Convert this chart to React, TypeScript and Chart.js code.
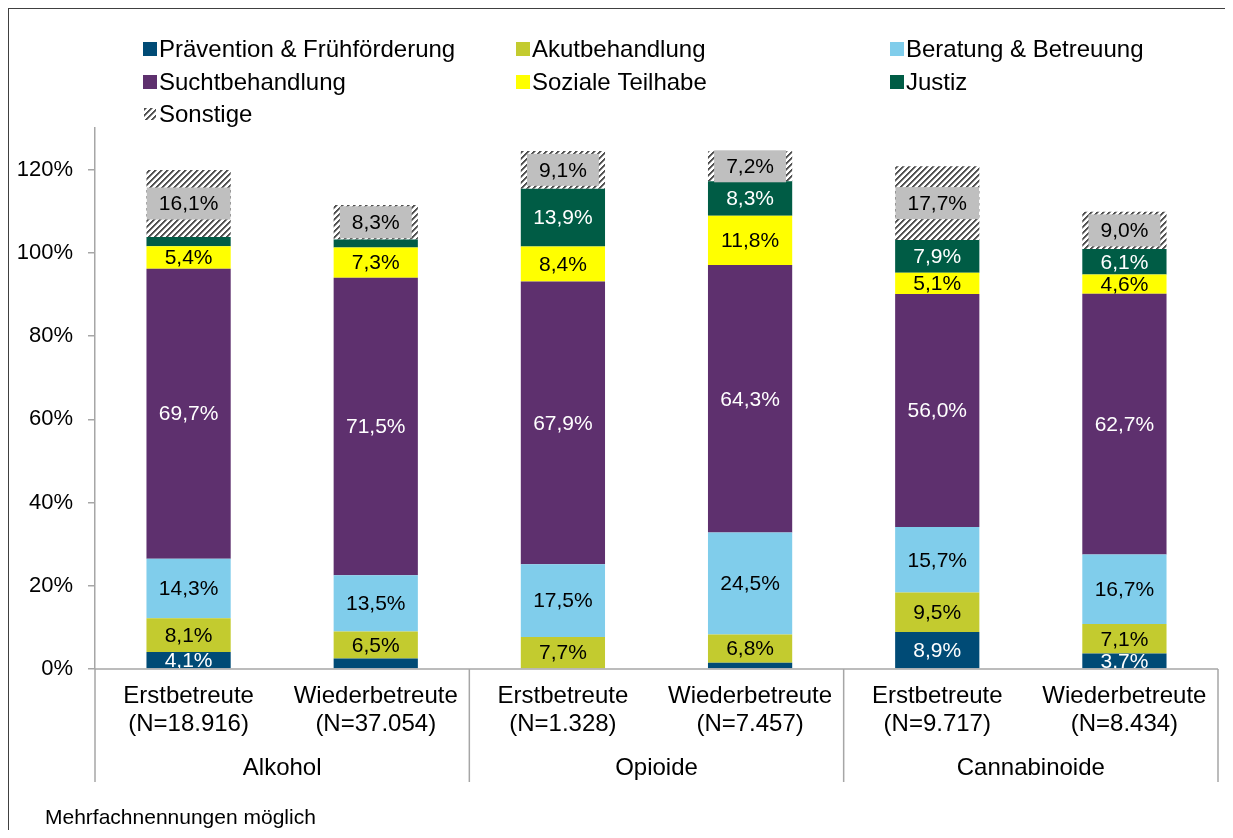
import React, { useEffect, useRef } from "react";
import { Chart, registerables } from "chart.js";

Chart.register(...registerables);

// ---- data ----
const typeLabels = ["Erstbetreute", "Wiederbetreute", "Erstbetreute", "Wiederbetreute", "Erstbetreute", "Wiederbetreute"];
const nLabels = ["(N=18.916)", "(N=37.054)", "(N=1.328)", "(N=7.457)", "(N=9.717)", "(N=8.434)"];
const groupLabels = ["Alkohol", "Opioide", "Cannabinoide"];

const seriesNames = [
  "Prävention & Frühförderung",
  "Akutbehandlung",
  "Beratung & Betreuung",
  "Suchtbehandlung",
  "Soziale Teilhabe",
  "Justiz",
  "Sonstige",
];

const praevention = [4.1, 2.5, 0, 1.5, 8.9, 3.7];
const akut = [8.1, 6.5, 7.7, 6.8, 9.5, 7.1];
const beratung = [14.3, 13.5, 17.5, 24.5, 15.7, 16.7];
const sucht = [69.7, 71.5, 67.9, 64.3, 56.0, 62.7];
const sozial = [5.4, 7.3, 8.4, 11.8, 5.1, 4.6];
const justiz = [2.2, 1.9, 13.9, 8.3, 7.9, 6.1];
const sonstige = [16.1, 8.3, 9.1, 7.2, 17.7, 9.0];

const yTicks = [0, 20, 40, 60, 80, 100, 120];
const footnote = "Mehrfachnennungen möglich";

// ---- styles ----
const seriesColors = ["#004B76", "#C3CB2F", "#80CDEB", "#5E306E", "#FFFF00", "#005C45"];
const labelColors = ["#FFFFFF", "#000000", "#000000", "#FFFFFF", "#000000", "#FFFFFF", "#000000"];
const FONT = '"Liberation Sans", Arial, sans-serif';
const AXIS_COLOR = "#a6a6a6";

function makeHatch(): CanvasPattern | string {
  const c = document.createElement("canvas");
  c.width = 6;
  c.height = 6;
  const g = c.getContext("2d");
  if (!g) return "#888";
  const img = g.createImageData(6, 6);
  for (let y = 0; y < 6; y++) {
    for (let x = 0; x < 6; x++) {
      const m = (x + y) % 6;
      const i = (y * 6 + x) * 4;
      const v = m < 2 ? 0x50 : m === 2 ? 0x9a : 0xff;
      img.data[i] = v;
      img.data[i + 1] = v;
      img.data[i + 2] = v;
      img.data[i + 3] = 255;
    }
  }
  g.putImageData(img, 0, 0);
  const p = g.createPattern(c, "repeat");
  return p || "#888";
}

function fmt(v: number) {
  return v.toFixed(1).replace(".", ",") + "%";
}

export default function App() {
  const ref = useRef<HTMLCanvasElement | null>(null);

  useEffect(() => {
    const canvas = ref.current;
    if (!canvas) return;
    const hatch = makeHatch();
    const values = [praevention, akut, beratung, sucht, sozial, justiz, sonstige];
    const fills: any[] = [...seriesColors, hatch];

    const overlay = {
      id: "overlay",
      afterDatasetsDraw(chart: any) {
        const ctx = chart.ctx as CanvasRenderingContext2D;
        ctx.save();
        ctx.font = `21px ${FONT}`;
        ctx.textAlign = "center";
        ctx.textBaseline = "middle";
        chart.data.datasets.forEach((ds: any, di: number) => {
          const meta = chart.getDatasetMeta(di);
          meta.data.forEach((el: any, i: number) => {
            const v = ds.data[i];
            if (v < 3) return;
            const p = el.getProps(["x", "y", "base"], true);
            const cy = (p.y + p.base) / 2;
            const t = fmt(v);
            if (di === 6) {
              const w = ctx.measureText(t).width;
              ctx.fillStyle = "#BFBFBF";
              ctx.fillRect(p.x - w / 2 - 12, cy - 16, w + 24, 32);
            }
            ctx.fillStyle = labelColors[di];
            ctx.fillText(t, p.x, cy + 1);
          });
        });
        ctx.restore();
      },
      afterDraw(chart: any) {
        const ctx = chart.ctx as CanvasRenderingContext2D;
        const ca = chart.chartArea;
        const meta = chart.getDatasetMeta(0);
        ctx.save();
        // x axis line and separators
        ctx.strokeStyle = AXIS_COLOR;
        ctx.lineWidth = 1.5;
        ctx.beginPath();
        ctx.moveTo(ca.left, ca.bottom);
        ctx.lineTo(ca.right, ca.bottom);
        const catW = (ca.right - ca.left) / typeLabels.length;
        for (let k = 0; k <= typeLabels.length; k += 2) {
          const x = ca.left + k * catW;
          ctx.moveTo(x, ca.bottom);
          ctx.lineTo(x, ca.bottom + 113);
        }
        ctx.stroke();

        // x labels
        ctx.fillStyle = "#000";
        ctx.textAlign = "center";
        ctx.textBaseline = "middle";
        ctx.font = `24px ${FONT}`;
        meta.data.forEach((el: any, i: number) => {
          ctx.fillText(typeLabels[i], el.x, ca.bottom + 27);
          ctx.fillText(nLabels[i], el.x, ca.bottom + 55);
        });
        groupLabels.forEach((g, gi) => {
          const x = ca.left + (gi * 2 + 1) * catW;
          ctx.fillText(g, x, ca.bottom + 99);
        });

        // legend
        ctx.font = `24px ${FONT}`;
        ctx.textAlign = "left";
        const colX = [134, 507, 881];
        const rowY = [40, 73, 105];
        seriesNames.forEach((name, i) => {
          const col = i % 3;
          const row = Math.floor(i / 3);
          const sx = colX[col];
          const sy = rowY[row];
          ctx.fillStyle = fills[i];
          if (i === 6) ctx.fillRect(sx + 1, sy - 6, 12, 12);
          else ctx.fillRect(sx, sy - 7, 14, 14);
          ctx.fillStyle = "#000";
          ctx.fillText(name, sx + 16, sy + 1);
        });

        // footnote
        ctx.font = `21px ${FONT}`;
        ctx.fillText(footnote, 36, ca.bottom + 149);
        ctx.restore();
      },
    };

    const chart = new Chart(canvas, {
      type: "bar",
      data: {
        labels: typeLabels.map((t, i) => `${t} ${nLabels[i]}`),
        datasets: values.map((arr, i) => ({
          label: seriesNames[i],
          data: arr,
          backgroundColor: fills[i],
          borderWidth: 0,
          categoryPercentage: 1,
          barPercentage: 0.45,
        })),
      },
      options: {
        responsive: false,
        animation: false,
        layout: { padding: { left: 0, right: 15, top: 119, bottom: 161 } },
        plugins: { legend: { display: false }, tooltip: { enabled: false } },
        scales: {
          x: { stacked: true, display: false },
          y: {
            stacked: true,
            min: 0,
            max: 130,
            afterBuildTicks: (scale: any) => {
              scale.ticks = yTicks.map((v) => ({ value: v }));
            },
            afterFit: (scale: any) => {
              scale.width = 86;
            },
            border: { display: true, color: AXIS_COLOR, width: 1.5 },
            grid: {
              display: true,
              drawOnChartArea: false,
              drawTicks: true,
              tickLength: 7,
              color: AXIS_COLOR,
              lineWidth: 1.5,
            },
            ticks: {
              padding: 15,
              color: "#000",
              font: { family: FONT, size: 22 },
              callback: (v: any) => `${v}%`,
            },
          },
        },
      },
      plugins: [overlay],
    });
    return () => chart.destroy();
  }, []);

  return (
    <div
      style={{
        width: 1225,
        height: 822,
        borderTop: "1px solid #404040",
        borderLeft: "1px solid #404040",
        boxSizing: "border-box",
        background: "#fff",
      }}
    >
      <canvas ref={ref} width={1224} height={821} style={{ display: "block" }} />
    </div>
  );
}
